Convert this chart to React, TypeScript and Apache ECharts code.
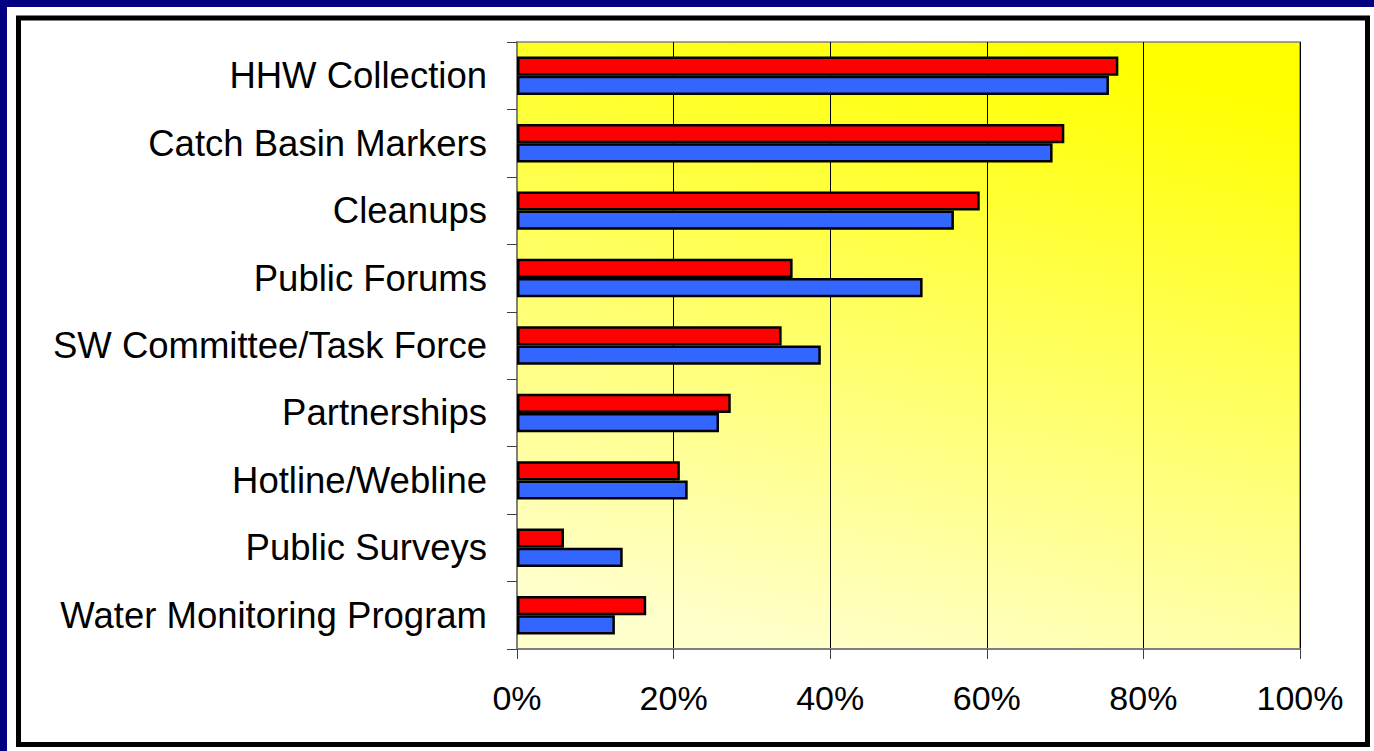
import React, { useEffect, useRef } from "react";
import * as echarts from "echarts";

const categories = [
  "Water Monitoring Program",
  "Public Surveys",
  "Hotline/Webline",
  "Partnerships",
  "SW Committee/Task Force",
  "Public Forums",
  "Cleanups",
  "Catch Basin Markers",
  "HHW Collection",
];
const redValues = [16.5, 6.0, 20.8, 27.3, 33.8, 35.2, 59.1, 69.9, 76.8];
const blueValues = [12.5, 13.5, 21.8, 25.8, 38.8, 51.8, 55.8, 68.4, 75.6];
const xTicks = [0, 20, 40, 60, 80, 100];

const FONT = "Arial, 'Liberation Sans', sans-serif";

export default function App() {
  const ref = useRef<HTMLDivElement>(null);
  useEffect(() => {
    if (!ref.current) return;
    const chart = echarts.init(ref.current, null, { renderer: "svg" });
    chart.setOption({
      animation: false,
      backgroundColor: "#ffffff",
      graphic: [
        { type: "rect", shape: { x: 0, y: 0, width: 1374, height: 7 }, style: { fill: "#000080" }, z: 100 },
        { type: "rect", shape: { x: 0, y: 0, width: 7, height: 751 }, style: { fill: "#000080" }, z: 100 },
        {
          type: "rect",
          shape: { x: 18.5, y: 18, width: 1349, height: 726.5 },
          style: { fill: "none", stroke: "#000000", lineWidth: 5 },
          z: 100,
        },
      ],
      grid: {
        left: 517,
        top: 42,
        right: 74,
        bottom: 102,
        show: true,
        borderColor: "#808080",
        borderWidth: 1.5,
        backgroundColor: {
          type: "linear",
          x: 0.65,
          y: 0,
          x2: 0.35,
          y2: 1,
          colorStops: [
            { offset: 0, color: "#FFFF00" },
            { offset: 1, color: "#FFFFCC" },
          ],
        },
      },
      xAxis: {
        type: "value",
        min: xTicks[0],
        max: xTicks[xTicks.length - 1],
        interval: 20,
        axisLine: { show: true, lineStyle: { color: "#808080", width: 2 } },
        axisTick: { show: true, length: 10, lineStyle: { color: "#404040", width: 1 } },
        splitLine: { show: true, lineStyle: { color: "#000000", width: 1 } },
        axisLabel: {
          formatter: "{value}%",
          color: "#000000",
          fontSize: 34,
          fontFamily: FONT,
          margin: 32,
        },
      },
      yAxis: {
        type: "category",
        data: categories,
        axisLine: { show: true, lineStyle: { color: "#808080", width: 2 } },
        axisTick: { show: true, length: 10, lineStyle: { color: "#404040", width: 1 } },
        axisLabel: {
          color: "#000000",
          fontSize: 36.5,
          fontFamily: FONT,
          margin: 30,
        },
      },
      series: [
        {
          name: "Red",
          type: "bar",
          data: redValues,
          barGap: "0%",
          barCategoryGap: "43%",
          itemStyle: { color: "#FF0000", borderColor: "#000000", borderWidth: 2.5 },
        },
        {
          name: "Blue",
          type: "bar",
          data: blueValues,
          barGap: "0%",
          barCategoryGap: "43%",
          itemStyle: { color: "#3366FF", borderColor: "#000000", borderWidth: 2.5 },
        },
      ],
    });
    return () => chart.dispose();
  }, []);
  return (
    <div
      ref={ref}
      style={{ position: "absolute", left: 0, top: 0, width: 1374, height: 751 }}
    />
  );
}
